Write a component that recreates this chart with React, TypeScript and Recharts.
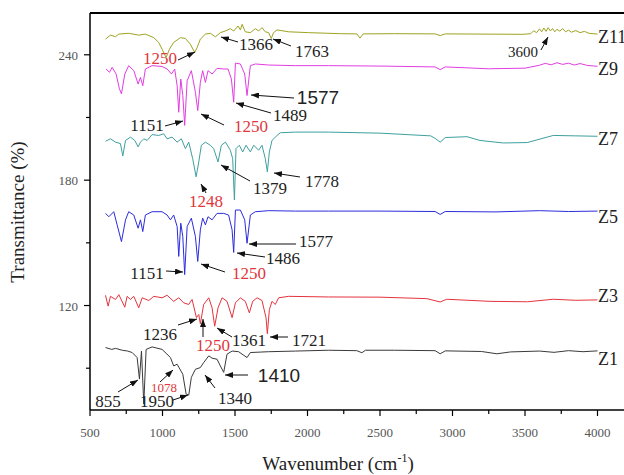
import React from 'react';
import { LineChart, Line, XAxis, YAxis, ReferenceLine } from 'recharts';

// [wavenumber (cm-1), transmittance (%)], one list per sample
const z1: [number, number][] = [
  [607, 99.9], [650, 99.0], [676, 99.5], [722, 98.6], [760, 98.2], [791, 97.5], [825, 95.1],
  [841, 84.8], [855, 98.2], [871, 72.9], [887, 99.0], [928, 100.2], [997, 99.0], [1055, 95.1],
  [1077, 91.1], [1101, 91.9], [1140, 87.1], [1163, 77.6], [1181, 77.1], [1199, 85.6], [1227, 89.5],
  [1261, 90.3], [1284, 92.7], [1319, 95.9], [1342, 94.8], [1376, 94.3], [1399, 91.1], [1422, 88.0],
  [1445, 96.7], [1480, 98.2], [1525, 97.9], [1583, 95.1], [1606, 97.5], [1732, 97.9], [1916, 98.2],
  [2145, 98.6], [2340, 98.4], [2375, 97.4], [2400, 98.6], [2600, 98.6], [2880, 98.4], [2915, 96.9],
  [2950, 98.3], [3200, 98.0], [3306, 96.9], [3400, 97.8], [3600, 98.2], [3700, 97.6], [3800, 98.4],
  [3900, 97.9], [4000, 98.3],
];

const z3: [number, number][] = [
  [607, 124.9], [625, 119.7], [641, 124.4], [676, 122.9], [699, 125.2], [740, 119.2], [756, 124.4],
  [779, 122.9], [802, 124.4], [836, 118.9], [860, 123.7], [905, 122.4], [940, 124.4], [997, 123.7],
  [1032, 124.9], [1077, 122.0], [1112, 123.7], [1146, 121.3], [1181, 120.5], [1204, 122.9],
  [1234, 114.2], [1250, 115.7], [1261, 111.3], [1284, 120.5], [1319, 123.7], [1342, 118.9],
  [1360, 110.1], [1383, 118.9], [1411, 123.7], [1445, 122.0], [1480, 114.2], [1503, 121.3],
  [1537, 123.7], [1571, 122.0], [1599, 116.5], [1622, 122.0], [1652, 123.7], [1686, 122.4],
  [1714, 114.2], [1723, 106.5], [1737, 118.0], [1755, 122.0], [1778, 120.5], [1801, 123.7],
  [1870, 124.4], [2145, 124.1], [2500, 124.0], [2823, 123.3], [2915, 121.7], [2960, 123.0],
  [3259, 122.0], [3517, 121.8], [3695, 123.0], [3850, 122.5], [4000, 122.7],
];

const z5: [number, number][] = [
  [607, 164.1], [630, 162.5], [664, 164.9], [687, 158.6], [717, 150.6], [745, 161.0], [767, 164.9],
  [802, 163.3], [832, 157.0], [848, 161.0], [864, 155.4], [882, 163.3], [928, 164.9], [997, 164.9],
  [1032, 163.3], [1055, 161.0], [1077, 163.3], [1101, 157.8], [1112, 143.5], [1126, 159.4],
  [1140, 153.0], [1153, 134.8], [1170, 157.8], [1199, 161.8], [1227, 153.0], [1243, 141.1],
  [1261, 156.2], [1277, 161.8], [1296, 158.6], [1314, 162.5], [1342, 161.0], [1376, 164.1],
  [1422, 164.1], [1456, 163.3], [1480, 156.2], [1491, 145.4], [1503, 165.7], [1537, 165.7],
  [1567, 161.0], [1583, 149.8], [1606, 163.3], [1640, 164.9], [1732, 165.4], [1916, 165.2],
  [2145, 165.2], [2500, 165.2], [2880, 165.0], [2915, 163.6], [2950, 165.0], [3300, 164.8],
  [3600, 165.4], [3800, 165.0], [4000, 165.2],
];

const z7: [number, number][] = [
  [607, 198.6], [641, 199.8], [676, 198.2], [710, 197.5], [726, 191.6], [745, 199.0], [779, 200.6],
  [809, 199.0], [832, 195.9], [848, 198.2], [871, 199.8], [894, 199.0], [928, 201.8], [974, 201.4],
  [1008, 202.2], [1032, 199.8], [1066, 200.6], [1101, 198.2], [1130, 199.8], [1158, 195.1],
  [1181, 198.2], [1208, 190.3], [1232, 181.6], [1250, 188.7], [1268, 196.7], [1296, 198.2],
  [1330, 196.7], [1353, 195.1], [1383, 188.7], [1406, 196.7], [1434, 198.2], [1468, 194.3],
  [1484, 190.3], [1496, 170.5], [1507, 195.1], [1530, 196.7], [1553, 193.5], [1576, 196.7],
  [1606, 193.5], [1629, 196.7], [1663, 194.3], [1686, 196.7], [1709, 190.3], [1723, 184.0],
  [1737, 193.5], [1755, 199.0], [1790, 201.4], [1813, 202.7], [1916, 203.0], [2145, 203.0],
  [2500, 202.5], [2850, 201.2], [2880, 200.0], [2915, 198.2], [2950, 200.4], [3100, 200.8],
  [3190, 199.0], [3350, 197.8], [3515, 198.0], [3695, 201.4], [3850, 201.2], [4000, 201.0],
];

const z9: [number, number][] = [
  [611, 233.2], [634, 231.6], [653, 234.0], [680, 230.8], [703, 223.7], [717, 221.3], [740, 230.8],
  [767, 234.8], [802, 232.4], [832, 226.0], [848, 229.2], [864, 225.2], [882, 233.2], [928, 234.8],
  [997, 234.4], [1032, 233.2], [1062, 230.8], [1084, 233.2], [1101, 225.2], [1112, 212.5],
  [1126, 228.4], [1140, 220.5], [1153, 206.2], [1170, 227.6], [1199, 232.4], [1227, 222.1],
  [1243, 213.3], [1261, 226.8], [1277, 232.4], [1296, 226.8], [1314, 232.4], [1342, 230.8],
  [1376, 233.5], [1422, 233.2], [1452, 233.2], [1475, 228.4], [1491, 217.3], [1503, 236.0],
  [1537, 235.6], [1567, 230.8], [1583, 220.5], [1606, 234.8], [1640, 235.6], [1732, 235.1],
  [1916, 234.8], [2145, 234.8], [2500, 234.6], [2880, 234.2], [2915, 232.9], [2950, 234.2],
  [3250, 233.3], [3500, 233.6], [3600, 235.0], [3640, 235.9], [3680, 235.2], [3720, 236.2],
  [3760, 235.4], [3800, 236.0], [3840, 235.1], [3880, 235.8], [3930, 234.9], [4000, 234.5],
];

const z11: [number, number][] = [
  [607, 247.5], [641, 249.4], [676, 248.7], [699, 249.9], [767, 250.3], [836, 249.4], [882, 249.9],
  [940, 248.2], [974, 245.9], [997, 242.7], [1025, 238.7], [1048, 242.7], [1077, 245.9],
  [1124, 248.2], [1158, 247.8], [1192, 245.1], [1222, 241.1], [1239, 243.5], [1261, 247.5],
  [1296, 249.9], [1330, 250.3], [1365, 248.6], [1399, 250.6], [1434, 251.4], [1468, 252.5],
  [1491, 251.4], [1521, 253.8], [1537, 251.9], [1549, 254.6], [1571, 251.0], [1606, 250.6],
  [1640, 252.5], [1663, 251.4], [1686, 253.0], [1709, 251.0], [1732, 250.6], [1750, 247.8],
  [1766, 250.6], [1790, 251.9], [1870, 251.0], [2008, 250.6], [2226, 250.1], [2340, 250.0],
  [2362, 248.0], [2385, 250.0], [2600, 250.1], [2880, 250.0], [2915, 249.2], [2950, 250.0],
  [3487, 249.8], [3540, 250.1], [3560, 251.5], [3580, 250.6], [3600, 252.4], [3615, 251.0],
  [3630, 252.8], [3645, 251.2], [3660, 253.0], [3675, 251.4], [3690, 252.6], [3705, 251.0],
  [3720, 252.2], [3740, 251.3], [3760, 252.5], [3780, 251.0], [3800, 251.8], [3820, 250.8],
  [3850, 251.6], [3880, 250.6], [3910, 251.2], [3940, 250.3], [4000, 249.9],
];

const xTicks = [500, 750, 1000, 1250, 1500, 1750, 2000, 2250, 2500, 2750, 3000, 3250, 3500, 3750, 4000, 4250];
const yTicks = [90, 120, 150, 180, 210, 240];

const RED = '#e0363c';
const SERIF = '"Liberation Serif", "Times New Roman", serif';
const SANS = '"Liberation Sans", Arial, sans-serif';

const series = [
  { name: 'Z1', points: z1, color: '#3a3a3a', labelY: 365 },
  { name: 'Z3', points: z3, color: '#e4333d', labelY: 302 },
  { name: 'Z5', points: z5, color: '#2b2bdc', labelY: 223 },
  { name: 'Z7', points: z7, color: '#3f9f9f', labelY: 145 },
  { name: 'Z9', points: z9, color: '#e23de2', labelY: 75 },
  { name: 'Z11', points: z11, color: '#9ea322', labelY: 43 },
];

// peak call-outs: text position and arrow (tail -> head), in pixels
const notes = [
  { t: '1250', x: 160, y: 64, c: RED, f: SERIF, s: 17, a: [178, 60, 195, 52] },
  { t: '1366', x: 256, y: 50, c: '#222', f: SERIF, s: 17, a: [238, 42, 221, 37] },
  { t: '1763', x: 312, y: 57, c: '#222', f: SERIF, s: 17, a: [291, 46, 273, 39] },
  { t: '3600', x: 523, y: 57, c: '#222', f: SERIF, s: 15, a: [541, 50, 548, 37] },
  { t: '1577', x: 318, y: 104, c: '#222', f: SANS, s: 19, a: [294, 98, 251, 95] },
  { t: '1489', x: 290, y: 121, c: '#222', f: SERIF, s: 17, a: [271, 113, 236, 103] },
  { t: '1250', x: 251, y: 132, c: RED, f: SERIF, s: 17, a: [224, 125, 201, 114] },
  { t: '1151', x: 147, y: 131, c: '#222', f: SERIF, s: 17, a: [165, 126, 183, 121] },
  { t: '1248', x: 206, y: 207, c: RED, f: SERIF, s: 17, a: [206, 193, 201, 184] },
  { t: '1379', x: 270, y: 194, c: '#222', f: SERIF, s: 17, a: [250, 181, 221, 165] },
  { t: '1778', x: 322, y: 187, c: '#222', f: SERIF, s: 17, a: [300, 177, 274, 173] },
  { t: '1577', x: 316, y: 247, c: '#222', f: SERIF, s: 17, a: [296, 244, 249, 244] },
  { t: '1486', x: 283, y: 264, c: '#222', f: SERIF, s: 17, a: [265, 257, 237, 253] },
  { t: '1250', x: 249, y: 279, c: RED, f: SERIF, s: 17, a: [225, 272, 201, 264] },
  { t: '1151', x: 147, y: 279, c: '#222', f: SERIF, s: 17, a: [166, 271, 183, 272] },
  { t: '1236', x: 160, y: 340, c: '#222', f: SERIF, s: 17, a: [178, 325, 197, 319] },
  { t: '1250', x: 213, y: 351, c: RED, f: SERIF, s: 17, a: [203, 337, 203, 319] },
  { t: '1361', x: 249, y: 346, c: '#222', f: SERIF, s: 17, a: [232, 337, 217, 328] },
  { t: '1721', x: 309, y: 346, c: '#222', f: SERIF, s: 17, a: [288, 337, 270, 337] },
  { t: '855', x: 108, y: 407, c: '#222', f: SERIF, s: 17, a: [118, 392, 138, 380] },
  { t: '1950', x: 157, y: 407, c: '#222', f: SERIF, s: 17, a: [173, 400, 188, 395] },
  { t: '1078', x: 164, y: 392, c: RED, f: SERIF, s: 13, a: [160, 382, 173, 370] },
  { t: '1340', x: 235, y: 404, c: '#222', f: SERIF, s: 17, a: [215, 388, 205, 375] },
  { t: '1410', x: 279, y: 382, c: '#222', f: SANS, s: 19, a: [248, 375, 225, 375] },
];

const XTick = (props: any) => {
  const { x, y, payload } = props;
  const major = payload.value % 500 === 0;
  return (
    <g>
      <line x1={x} x2={x} y1={y} y2={y + (major ? 6 : 4)} stroke="#000" strokeWidth={1.2} />
      {major && (
        <text x={x} y={y + 27} textAnchor="middle" fontSize={13} fill="#555" fontFamily={SERIF}>
          {payload.value}
        </text>
      )}
    </g>
  );
};

const YTick = (props: any) => {
  const { x, y, payload } = props;
  const major = payload.value % 60 === 0;
  return (
    <g>
      <line x1={x - (major ? 6 : 4)} x2={x} y1={y} y2={y} stroke="#000" strokeWidth={1.2} />
      {major && (
        <text x={x - 12} y={y + 5} textAnchor="end" fontSize={13} fill="#555" fontFamily={SERIF}>
          {payload.value}
        </text>
      )}
    </g>
  );
};

export default function App() {
  return (
    <div style={{ position: 'absolute', left: 0, top: 0, width: 624, height: 475, overflow: 'hidden', background: '#fff' }}>
      <LineChart width={651} height={475} margin={{ top: 13, right: 10, bottom: 35, left: 30 }}>
        <XAxis
          dataKey="wn"
          type="number"
          domain={[500, 4300]}
          allowDataOverflow
          ticks={xTicks}
          tick={<XTick />}
          tickLine={false}
          tickSize={0}
          tickMargin={0}
          height={30}
          axisLine={{ stroke: '#000', strokeWidth: 1.5 }}
          interval={0}
        />
        <YAxis
          type="number"
          domain={[70, 260]}
          allowDataOverflow
          ticks={yTicks}
          tick={<YTick />}
          tickLine={false}
          tickSize={0}
          tickMargin={0}
          width={60}
          axisLine={{ stroke: '#000', strokeWidth: 1.5 }}
          interval={0}
        />
        <ReferenceLine y={260} stroke="#000" strokeWidth={2} />
        {series.map((s) => (
          <Line
            key={s.name}
            data={s.points.map(([wn, t]) => ({ wn, t }))}
            dataKey="t"
            type="linear"
            stroke={s.color}
            strokeWidth={1}
            dot={false}
            activeDot={false}
            isAnimationActive={false}
          />
        ))}
      </LineChart>
      <svg width={624} height={475} style={{ position: 'absolute', left: 0, top: 0, pointerEvents: 'none' }}>
        <defs>
          <marker id="head" markerWidth={8} markerHeight={6} refX={8} refY={3} orient="auto" markerUnits="userSpaceOnUse">
            <path d="M0,0 L8,3 L0,6 z" fill="#111" />
          </marker>
        </defs>
        {notes.map((n, i) => (
          <g key={i}>
            <line x1={n.a[0]} y1={n.a[1]} x2={n.a[2]} y2={n.a[3]} stroke="#111" strokeWidth={1} markerEnd="url(#head)" />
            <text x={n.x} y={n.y} textAnchor="middle" fontSize={n.s} fill={n.c} fontFamily={n.f}>
              {n.t}
            </text>
          </g>
        ))}
        {series.map((s) => (
          <text key={s.name} x={598} y={s.labelY} fontSize={18} fill="#222" fontFamily={SERIF}>
            {s.name}
          </text>
        ))}
        <text transform="translate(24,212) rotate(-90)" textAnchor="middle" fontSize={19} fill="#222" fontFamily={SERIF}>
          Transmittance (%)
        </text>
        <text x={338} y={470} textAnchor="middle" fontSize={19} fill="#222" fontFamily={SERIF}>
          Wavenumber (cm<tspan dy={-8} fontSize={12}>-1</tspan><tspan dy={8}>)</tspan>
        </text>
      </svg>
    </div>
  );
}
